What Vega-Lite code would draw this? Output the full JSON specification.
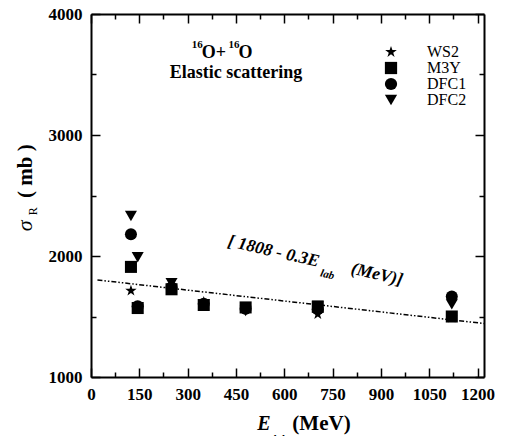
{
  "$schema": "https://vega.github.io/schema/vega-lite/v6.json",
  "width": 393,
  "height": 363,
  "autosize": "none",
  "padding": {"left": 91, "top": 14, "right": 23, "bottom": 59},
  "background": "white",
  "config": {
    "view": {"stroke": null},
    "axis": {"domainColor": "#000", "domainWidth": 2, "tickColor": "#000", "tickWidth": 1.5, "labelColor": "#000", "labelFont": "Liberation Serif", "labelFontSize": 17, "labelFontWeight": "bold", "grid": false, "labelOverlap": false, "labelFlush": false},
    "legend": {"labelFont": "Liberation Serif", "labelFontSize": 16, "labelColor": "#000", "symbolSize": 150, "symbolFillColor": "#000", "symbolStrokeWidth": 0, "labelOffset": 28, "rowPadding": 0, "padding": 0}
  },
  "layer": [
    {
      "data": {"values": [
        {"E": 124, "s": 1713, "model": "WS2"}, {"E": 124, "s": 1910, "model": "M3Y"}, {"E": 124, "s": 2180, "model": "DFC1"}, {"E": 124, "s": 2330, "model": "DFC2"},
        {"E": 145, "s": 1575, "model": "WS2"}, {"E": 145, "s": 1570, "model": "M3Y"}, {"E": 145, "s": 1585, "model": "DFC1"}, {"E": 145, "s": 1990, "model": "DFC2"},
        {"E": 250, "s": 1750, "model": "WS2"}, {"E": 250, "s": 1725, "model": "M3Y"}, {"E": 250, "s": 1740, "model": "DFC1"}, {"E": 250, "s": 1775, "model": "DFC2"},
        {"E": 350, "s": 1620, "model": "WS2"}, {"E": 350, "s": 1595, "model": "M3Y"}, {"E": 350, "s": 1605, "model": "DFC1"}, {"E": 350, "s": 1600, "model": "DFC2"},
        {"E": 480, "s": 1560, "model": "WS2"}, {"E": 480, "s": 1575, "model": "M3Y"}, {"E": 480, "s": 1565, "model": "DFC1"}, {"E": 480, "s": 1545, "model": "DFC2"},
        {"E": 704, "s": 1520, "model": "WS2"}, {"E": 704, "s": 1580, "model": "M3Y"}, {"E": 704, "s": 1560, "model": "DFC1"}, {"E": 704, "s": 1590, "model": "DFC2"},
        {"E": 1120, "s": 1490, "model": "WS2"}, {"E": 1120, "s": 1500, "model": "M3Y"}, {"E": 1120, "s": 1665, "model": "DFC1"}, {"E": 1120, "s": 1600, "model": "DFC2"}
      ]},
      "mark": {"type": "point", "filled": true, "color": "#000", "opacity": 1, "size": 145},
      "encoding": {
        "x": {"field": "E", "type": "quantitative", "scale": {"domain": [0, 1220], "nice": false, "zero": false},
          "axis": {"orient": "bottom", "title": null, "format": "d", "values": [0,75,150,225,300,375,450,525,600,675,750,825,900,975,1050,1125,1200],
            "labelExpr": "datum.value % 150 === 0 ? datum.label : ''",
            "tickSize": {"condition": {"test": "datum.value % 150 === 0", "value": -9}, "value": -5}, "labelPadding": 18}},
        "y": {"field": "s", "type": "quantitative", "scale": {"domain": [1000, 4000], "nice": false, "zero": false},
          "axis": {"orient": "left", "title": null, "format": "d", "values": [1000,1500,2000,2500,3000,3500,4000],
            "labelExpr": "datum.value % 1000 === 0 ? datum.label : ''",
            "tickSize": {"condition": {"test": "datum.value % 1000 === 0", "value": -9}, "value": -5}, "labelPadding": 18}},
        "shape": {"field": "model", "type": "nominal",
          "scale": {"domain": ["WS2", "M3Y", "DFC1", "DFC2"], "range": ["M0,-1L0.2245,-0.309L0.951,-0.309L0.363,0.118L0.588,0.809L0,0.382L-0.588,0.809L-0.363,0.118L-0.951,-0.309L-0.2245,-0.309Z", "square", "circle", "triangle-down"]},
          "legend": {"title": null, "orient": "none", "legendX": 292, "legendY": 30}}
      }
    },
    {
      "data": {"values": [{"E": 20, "s": 1802}, {"E": 1220, "s": 1442}]},
      "mark": {"type": "line", "color": "#000", "strokeWidth": 1.5, "strokeDash": [5, 2, 1.5, 2, 1.5, 2]},
      "encoding": {
        "x": {"field": "E", "type": "quantitative", "scale": {"domain": [0, 1220], "nice": false, "zero": false},
          "axis": {"orient": "top", "title": null, "labels": false, "values": [0,75,150,225,300,375,450,525,600,675,750,825,900,975,1050,1125,1200],
            "tickSize": {"condition": {"test": "datum.value % 150 === 0", "value": -9}, "value": -5}}},
        "y": {"field": "s", "type": "quantitative", "scale": {"domain": [1000, 4000], "nice": false, "zero": false},
          "axis": {"orient": "right", "title": null, "labels": false, "values": [1000,1500,2000,2500,3000,3500,4000],
            "tickSize": {"condition": {"test": "datum.value % 1000 === 0", "value": -9}, "value": -5}}}
      }
    },
    {
      "data": {"values": [{}]},
      "mark": {"type": "text", "text": "[ 1808 - 0.3E", "font": "Liberation Serif", "fontSize": 17.5, "fontWeight": "bold", "fontStyle": "italic", "align": "left", "baseline": "alphabetic", "angle": 13, "color": "#000"},
      "encoding": {
        "x": {"datum": 422, "type": "quantitative", "scale": {"domain": [0, 1220]}, "axis": null},
        "y": {"datum": 2083, "type": "quantitative", "scale": {"domain": [1000, 4000]}, "axis": null}
      }
    },
    {
      "data": {"values": [{}]},
      "mark": {"type": "text", "text": "lab", "font": "Liberation Serif", "fontSize": 11, "fontWeight": "bold", "fontStyle": "italic", "align": "left", "baseline": "alphabetic", "angle": 13, "color": "#000"},
      "encoding": {
        "x": {"datum": 710, "type": "quantitative", "scale": {"domain": [0, 1220]}, "axis": null},
        "y": {"datum": 1833, "type": "quantitative", "scale": {"domain": [1000, 4000]}, "axis": null}
      }
    },
    {
      "data": {"values": [{}]},
      "mark": {"type": "text", "text": "(MeV)]", "font": "Liberation Serif", "fontSize": 17.5, "fontWeight": "bold", "fontStyle": "italic", "align": "left", "baseline": "alphabetic", "angle": 13, "color": "#000"},
      "encoding": {
        "x": {"datum": 805, "type": "quantitative", "scale": {"domain": [0, 1220]}, "axis": null},
        "y": {"datum": 1855, "type": "quantitative", "scale": {"domain": [1000, 4000]}, "axis": null}
      }
    },
    {
      "data": {"values": [{}]},
      "mark": {"type": "text", "text": "16", "font": "Liberation Serif", "fontSize": 11, "fontWeight": "bold", "align": "left", "baseline": "alphabetic", "color": "#000"},
      "encoding": {
        "x": {"datum": 313, "type": "quantitative", "scale": {"domain": [0, 1220]}, "axis": null},
        "y": {"datum": 3719, "type": "quantitative", "scale": {"domain": [1000, 4000]}, "axis": null}
      }
    },
    {
      "data": {"values": [{}]},
      "mark": {"type": "text", "text": "O+", "font": "Liberation Serif", "fontSize": 18, "fontWeight": "bold", "align": "left", "baseline": "alphabetic", "color": "#000"},
      "encoding": {
        "x": {"datum": 344, "type": "quantitative", "scale": {"domain": [0, 1220]}, "axis": null},
        "y": {"datum": 3636, "type": "quantitative", "scale": {"domain": [1000, 4000]}, "axis": null}
      }
    },
    {
      "data": {"values": [{}]},
      "mark": {"type": "text", "text": "16", "font": "Liberation Serif", "fontSize": 11, "fontWeight": "bold", "align": "left", "baseline": "alphabetic", "color": "#000"},
      "encoding": {
        "x": {"datum": 427, "type": "quantitative", "scale": {"domain": [0, 1220]}, "axis": null},
        "y": {"datum": 3719, "type": "quantitative", "scale": {"domain": [1000, 4000]}, "axis": null}
      }
    },
    {
      "data": {"values": [{}]},
      "mark": {"type": "text", "text": "O", "font": "Liberation Serif", "fontSize": 18, "fontWeight": "bold", "align": "left", "baseline": "alphabetic", "color": "#000"},
      "encoding": {
        "x": {"datum": 458, "type": "quantitative", "scale": {"domain": [0, 1220]}, "axis": null},
        "y": {"datum": 3636, "type": "quantitative", "scale": {"domain": [1000, 4000]}, "axis": null}
      }
    },
    {
      "data": {"values": [{}]},
      "mark": {"type": "text", "text": "Elastic scattering", "font": "Liberation Serif", "fontSize": 18, "fontWeight": "bold", "align": "center", "baseline": "alphabetic", "color": "#000"},
      "encoding": {
        "x": {"datum": 450, "type": "quantitative", "scale": {"domain": [0, 1220]}, "axis": null},
        "y": {"datum": 3471, "type": "quantitative", "scale": {"domain": [1000, 4000]}, "axis": null}
      }
    },
    {
      "data": {"values": [{}]},
      "mark": {"type": "text", "text": "E", "font": "Liberation Serif", "fontSize": 20, "fontWeight": "bold", "fontStyle": "italic", "align": "left", "baseline": "alphabetic", "color": "#000"},
      "encoding": {
        "x": {"datum": 516, "type": "quantitative", "scale": {"domain": [0, 1220]}, "axis": null},
        "y": {"datum": 562, "type": "quantitative", "scale": {"domain": [1000, 4000]}, "axis": null}
      }
    },
    {
      "data": {"values": [{}]},
      "mark": {"type": "text", "text": "lab", "font": "Liberation Serif", "fontSize": 11, "fontWeight": "bold", "fontStyle": "italic", "align": "left", "baseline": "alphabetic", "color": "#000"},
      "encoding": {
        "x": {"datum": 565, "type": "quantitative", "scale": {"domain": [0, 1220]}, "axis": null},
        "y": {"datum": 462, "type": "quantitative", "scale": {"domain": [1000, 4000]}, "axis": null}
      }
    },
    {
      "data": {"values": [{}]},
      "mark": {"type": "text", "text": "(MeV)", "font": "Liberation Serif", "fontSize": 21, "fontWeight": "bold", "align": "left", "baseline": "alphabetic", "color": "#000"},
      "encoding": {
        "x": {"datum": 625, "type": "quantitative", "scale": {"domain": [0, 1220]}, "axis": null},
        "y": {"datum": 562, "type": "quantitative", "scale": {"domain": [1000, 4000]}, "axis": null}
      }
    },
    {
      "data": {"values": [{}]},
      "mark": {"type": "text", "text": "σ", "font": "Liberation Serif", "fontSize": 22, "fontStyle": "italic", "align": "center", "baseline": "middle", "angle": -90, "color": "#000"},
      "encoding": {
        "x": {"datum": -205, "type": "quantitative", "scale": {"domain": [0, 1220]}, "axis": null},
        "y": {"datum": 2250, "type": "quantitative", "scale": {"domain": [1000, 4000]}, "axis": null}
      }
    },
    {
      "data": {"values": [{}]},
      "mark": {"type": "text", "text": "R", "font": "Liberation Serif", "fontSize": 12, "align": "center", "baseline": "middle", "angle": -90, "color": "#000"},
      "encoding": {
        "x": {"datum": -180, "type": "quantitative", "scale": {"domain": [0, 1220]}, "axis": null},
        "y": {"datum": 2370, "type": "quantitative", "scale": {"domain": [1000, 4000]}, "axis": null}
      }
    },
    {
      "data": {"values": [{}]},
      "mark": {"type": "text", "text": "( mb )", "font": "Liberation Serif", "fontSize": 21, "fontWeight": "bold", "align": "center", "baseline": "middle", "angle": -90, "color": "#000"},
      "encoding": {
        "x": {"datum": -202, "type": "quantitative", "scale": {"domain": [0, 1220]}, "axis": null},
        "y": {"datum": 2702, "type": "quantitative", "scale": {"domain": [1000, 4000]}, "axis": null}
      }
    }
  ],
  "resolve": {"axis": {"x": "independent", "y": "independent"}}
}
